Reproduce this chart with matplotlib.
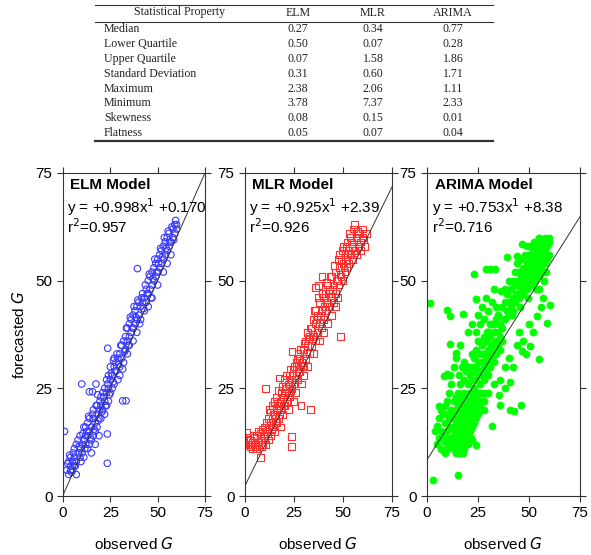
import matplotlib
matplotlib.use("Agg")
import matplotlib.pyplot as plt
from matplotlib.lines import Line2D

# ---- table data ----
table_header = ["Statistical Property", "ELM", "MLR", "ARIMA"]
table_rows = ["Median", "Lower Quartile", "Upper Quartile", "Standard Deviation",
              "Maximum", "Minimum", "Skewness", "Flatness"]
elm_stats = ["0.27", "0.50", "0.07", "0.31", "2.38", "3.78", "0.08", "0.05"]
mlr_stats = ["0.34", "0.07", "1.58", "0.60", "2.06", "7.37", "0.15", "0.07"]
arima_stats = ["0.77", "0.28", "1.86", "1.71", "1.11", "2.33", "0.01", "0.04"]

# ---- scatter data (observed, forecasted) ----
elm_pts = [
    (2, 6), (3, 5), (3, 8), (4, 7), (4, 9), (5, 6), (5, 8), (6, 9), (6, 11), (7, 5), (7, 8),
    (7, 12), (8, 10), (8, 13), (9, 9), (9, 11), (9, 14), (10, 12), (10, 10), (11, 13), (11, 16),
    (11, 9), (12, 14), (12, 12), (4, 6), (6, 7), (3.5, 9.5),
    (0.8, 15), (23.4, 7.6), (23.4, 14.4), (9.9, 26), (13.9, 24.2), (15.6, 24.2), (17.4, 26),
    (18.3, 23.5), (31.5, 22.1), (33.3, 22.1), (23.6, 34.3), (39.3, 52.8),
    (12, 16), (13, 11), (13, 14), (13, 17), (14, 12), (14, 15), (14, 18), (15, 13), (15, 16),
    (15, 10), (16, 14), (16, 18), (16, 20), (17, 15), (17, 17), (17, 12), (18, 19), (18, 16),
    (18, 21), (19, 18), (19, 20), (19, 14), (20, 21), (20, 18), (20, 23),
    (21, 20), (21, 24), (22, 22), (22, 19), (22, 25), (23, 24), (23, 21), (23, 27), (24, 25),
    (24, 22), (24, 28), (25, 24), (25, 27), (25, 30), (26, 28), (26, 25), (27, 26), (27, 30),
    (27, 32), (28, 29), (28, 31), (29, 27), (29, 32), (30, 30), (30, 33), (30, 28), (26.6, 31.5),
    (31, 32), (31, 35), (32, 31), (32, 36), (33, 34), (33, 37), (34, 33), (34, 36), (34, 39),
    (35, 37), (35, 40), (35, 35), (36, 38), (36, 41), (37, 39), (37, 42), (37, 36), (38, 40),
    (38, 43), (39, 41), (39, 44), (39, 38), (40, 42), (40, 45),
    (41, 44), (41, 41), (42, 45), (42, 47), (43, 43), (43, 46), (44, 48), (44, 45), (45, 47),
    (45, 50), (45, 44), (46, 48), (46, 51), (47, 49), (47, 52), (47, 46), (48, 50), (48, 53),
    (49, 51), (49, 54), (50, 52), (50, 49), (50, 55),
    (51, 53), (51, 56), (52, 54), (52, 57), (53, 55), (53, 52), (53, 58), (54, 56), (54, 59),
    (55, 57), (55, 54), (55, 60), (56, 58), (56, 61), (57, 59), (57, 56), (58, 60), (58, 62),
    (59, 61), (59, 63), (60, 62), (60, 63),
    (2.5, 7.5), (4.5, 5.5), (5.5, 10), (6.5, 7), (8.5, 11.5), (9.5, 8), (10.5, 14.5), (11.5, 11),
    (12.5, 15), (13.5, 18.5), (14.5, 13.5), (15.5, 19), (16.5, 15.5), (17.5, 21), (18.5, 17.5),
    (19.5, 22), (20.5, 19.5), (21.5, 23), (22.5, 21), (23.5, 26), (24.5, 23.5), (25.5, 28.5),
    (26.5, 26.5), (27.5, 29), (28.5, 33), (29.5, 30.5), (30.5, 35), (31.5, 29.5), (32.5, 33.5),
    (33.5, 39), (34.5, 35), (35.5, 41.5), (36.5, 39), (37.5, 44), (38.5, 41.5), (39.5, 45.5),
    (40.5, 40), (41.5, 46), (42.5, 43.5), (43.5, 49), (44.5, 47), (45.5, 51.5), (46.5, 46),
    (47.5, 50.5), (48.5, 55), (49.5, 52), (50.5, 54), (51.5, 57.5), (52.5, 55.5), (53.5, 60),
    (54.5, 57.5), (55.5, 61.5), (56.5, 59), (57.5, 62.5), (58.5, 59.5), (59.5, 64),
]

mlr_pts = [
    (1, 14.7), (2, 12), (3, 11.5), (3, 13), (4, 11), (4, 12.5), (5, 12), (5, 13.5), (6, 11),
    (6, 14), (7, 12.5), (7, 15), (7.8, 8.9), (8, 13), (8, 14.5), (9, 12), (9, 15.5), (10, 13),
    (10, 16), (10, 14), (11, 15), (11, 17), (12, 13), (12, 16), (12, 18),
    (10.4, 25), (17.7, 27.4), (23.6, 11.5), (23.6, 13.8), (24, 33.6), (33.3, 20), (39.3, 51),
    (48.6, 37), (28.6, 21),
    (13, 14), (13, 17), (13, 19.5), (14, 16), (14, 18), (14, 21), (15, 15), (15, 19), (15, 22),
    (16, 17), (16, 20), (16, 23), (17, 18), (17, 21), (17, 24.5), (18, 16), (18, 20), (18, 22),
    (19, 19), (19, 23), (19, 25.5), (20, 21), (20, 24), (20, 27),
    (21, 22), (21, 25), (21, 28), (22, 20), (22, 24), (22, 26), (23, 23), (23, 27), (23, 29.5),
    (24, 25), (24, 28), (25, 22), (25, 26), (25, 30), (26, 24), (26, 28), (26, 31), (27, 27),
    (27, 30), (27, 33), (28, 29), (28, 32), (29, 26), (29, 31), (30, 30), (30, 34), (30, 28),
    (31, 32), (31, 36), (32, 30), (32, 35), (32, 38), (33, 33), (33, 37), (34, 35), (34, 39),
    (35, 33), (35, 37), (35, 41), (36, 36), (36, 40), (36, 43), (37, 38), (37, 42), (38, 36),
    (38, 40), (38, 45), (39, 39), (39, 43), (40, 41), (40, 46), (40, 38), (37.6, 48.8), (36, 48.4),
    (41, 43), (41, 47), (42, 40), (42, 45), (42, 49), (43, 44), (43, 48), (44, 42), (44, 46),
    (44, 51), (45, 45), (45, 49), (46, 47), (46, 52), (46, 44), (47, 46), (47, 50), (48, 49),
    (48, 53), (48, 56), (49, 51), (49, 55), (50, 50), (50, 54), (50, 58),
    (51, 52), (51, 56), (52, 55), (52, 59), (52, 53), (53, 54), (53, 57), (54, 56), (54, 60),
    (55, 55), (55, 58), (56, 57), (56, 63), (57, 56), (57, 60), (58, 58), (58, 61), (59, 57),
    (59, 59), (60, 60), (60, 62), (61, 58), (62, 61),
    (2.5, 13.5), (3.5, 12), (4.5, 14), (5.5, 11.5), (6.5, 12.5), (8.5, 11.5), (9.5, 14),
    (10.5, 12), (11.5, 14.5), (12.5, 20), (13.5, 15.5), (14.5, 19.5), (15.5, 17), (16.5, 21.5),
    (17.5, 19), (18.5, 24), (19.5, 21), (20.5, 25.5), (21.5, 23), (22.5, 28), (23.5, 24.5),
    (24.5, 29.5), (25.5, 27), (26.5, 32), (27.5, 29), (28.5, 34), (29.5, 30), (30.5, 35.5),
    (31.5, 33), (32.5, 36.5), (33.5, 39), (34.5, 37.5), (35.5, 43), (36.5, 41), (37.5, 46),
    (38.5, 42), (39.5, 47), (40.5, 44), (41.5, 49.5), (42.5, 47), (43.5, 51), (44.5, 48),
    (45.5, 53.5), (46.5, 50), (47.5, 55), (48.5, 51.5), (49.5, 57), (50.5, 53), (51.5, 58),
    (52.5, 56), (53.5, 61), (54.5, 59), (55.5, 62), (57.5, 61.5), (60.5, 59.5),
]

arima_pts = [
    (3.1, 3.7), (15, 4.9), (8.8, 9.9), (7, 11), (5, 12), (6, 13.5), (4, 15), (4.8, 16.2),
    (5.7, 18), (7, 15), (8, 14), (9, 12.5), (10, 15), (10, 11), (11, 13.5), (12, 12), (12, 16),
    (13, 11), (13, 14), (14, 10), (14, 13), (15, 11.5), (15, 14.5), (16, 12), (16, 10), (17, 13),
    (17.8, 9.9), (18, 11), (18, 12.5), (19, 14), (20, 12), (24, 11.9), (21, 15), (22, 13),
    (12, 18), (12, 20), (13, 16), (13, 19), (13, 22), (14, 17), (14, 20), (14, 23), (15, 16),
    (15, 18), (15, 21), (15, 24), (16, 15), (16, 17), (16, 19), (16, 22), (17, 16), (17, 18),
    (17, 20), (17, 23), (18, 15), (18, 17), (18, 19), (18, 21), (18, 24), (19, 16), (19, 18),
    (19, 20), (19, 22), (20, 15), (20, 17), (20, 19), (20, 21), (20, 23), (20, 26), (21, 17),
    (21, 19), (21, 21), (21, 24), (22, 16), (22, 18), (22, 20), (22, 23), (23, 17), (23, 19),
    (23, 22), (23, 25), (24, 18), (24, 20), (24, 23), (25, 19), (25, 22), (25, 24), (26, 21),
    (26, 20), (27, 22), (28, 20), (28, 24),
    (7, 20), (8, 19), (9, 21), (10, 22), (10, 19), (11, 24), (12, 26), (9, 17), (11, 18), (6, 21),
    (8.3, 27.8), (10, 28.3), (11.3, 28.2), (15.7, 28), (13, 30), (14, 32), (14.2, 33.3),
    (11.3, 35.4), (16, 35), (17, 30), (18, 27), (19, 29), (16, 26), (18, 31), (20, 30), (21, 28),
    (22, 27),
    (22, 30), (22, 33), (23, 29), (23, 32), (24, 27), (24, 30), (24, 34), (25, 28), (25, 31),
    (25, 36), (26, 26), (26, 29), (26, 33), (27, 28), (27, 31), (27, 35), (28, 27), (28, 30),
    (28, 33), (28, 37), (29, 29), (29, 32), (29, 36), (30, 28), (30, 31), (30, 34), (30, 38),
    (31, 30), (31, 33), (31, 37), (32, 32), (32, 35), (32, 40), (33, 31), (33, 34), (33, 38),
    (34, 33), (34, 36), (34, 41), (35, 35), (35, 38), (35, 42), (36, 34), (36, 37), (36, 40),
    (37, 36), (37, 39), (37, 44),
    (26, 24), (28, 22), (30, 24), (31.7, 16.3), (33, 26), (35.8, 21.2), (35.4, 23.5), (36, 27),
    (38, 25), (40.7, 26.4), (40.7, 20), (42.6, 19.8), (46, 21.2), (38, 30), (40, 32), (42, 30),
    (46.4, 33.6), (48.7, 32.9), (50.7, 34.8), (54.9, 31.8), (44, 35), (45, 38), (47, 36),
    (50, 40), (52, 38), (54, 41.8), (58.8, 40.2), (60.3, 44.3), (56, 44),
    (1.5, 44.9), (10, 43.2), (11.3, 41.8), (17.6, 42.3), (23.9, 45.7), (23, 51.5), (28.7, 52.7),
    (31, 52.8), (33.4, 52.8), (36.1, 47.6), (20, 38), (22, 40), (24, 38), (25, 42), (26, 40),
    (27, 44), (28, 41), (29, 46), (30, 43), (31, 40), (32, 45), (33, 48), (34, 44),
    (38, 41), (38, 45), (38, 48), (39, 43), (39, 47), (40, 42), (40, 45), (40, 50), (41, 44),
    (41, 48), (42, 43), (42, 46), (42, 50), (43, 45), (43, 49), (43, 52), (44, 47), (44, 50),
    (44, 54), (45, 46), (45, 49), (45, 52), (46, 48), (46, 51), (46, 55), (47, 47), (47, 50),
    (47, 53), (48, 49), (48, 52), (48, 56), (49, 48), (49, 51), (49, 54), (49, 58), (50, 50),
    (50, 53), (50, 56), (51, 49), (51, 52), (51, 55), (51, 58), (52, 51), (52, 54), (52, 57),
    (53, 50), (53, 53), (53, 56), (53, 59), (54, 52), (54, 55), (54, 58), (55, 51), (55, 54),
    (55, 57), (55, 60), (56, 53), (56, 56), (56, 59), (57, 52), (57, 55), (57, 58), (58, 54),
    (58, 57), (58, 60), (59, 55), (59, 58), (60, 56), (60, 59), (59.8, 60), (54.9, 60),
    (46.7, 58.5), (39.4, 55.4), (44.3, 55.8), (57, 46), (55, 48),
    (14.5, 19), (16.5, 18), (17.5, 21.5), (18.5, 16), (19.5, 19), (20.5, 22), (21.5, 18),
    (22.5, 21), (23.5, 24), (24.5, 21.5), (17.5, 14), (19.5, 15), (21.5, 13.5), (13.5, 15),
    (15.5, 13), (27.5, 33), (29.5, 38), (31.5, 35), (33.5, 40), (35.5, 36), (37.5, 41),
    (39.5, 45), (41.5, 42), (43.5, 47), (45.5, 44), (47.5, 49), (49.5, 46), (51.5, 53),
    (53.5, 48), (55.5, 55), (57.5, 50), (52.5, 59), (56.5, 58), (58.5, 52), (50.5, 58),
]

models = ["ELM", "MLR", "ARIMA"]
slopes = [0.998, 0.925, 0.753]
intercepts = [0.170, 2.39, 8.38]
intercept_txt = ["+0.170", "+2.39", "+8.38"]
r2_txt = ["0.957", "0.926", "0.716"]
ticks = [0, 25, 50, 75]

W, H = 591, 555
fig = plt.figure(figsize=(W / 100, H / 100), dpi=100)
plt.rcParams["font.family"] = ["Liberation Sans", "DejaVu Sans"]


def fx(px):
    return px / W


def fy(py):
    return 1 - py / H


# ---- table at the top ----
serif = ["Liberation Serif", "DejaVu Serif"]
tx0, tx1 = 95, 493
col_x = [180, 298, 373, 453]
fig.add_artist(Line2D([fx(tx0), fx(tx1)], [fy(5), fy(5)], color="#333333", lw=0.8))
fig.add_artist(Line2D([fx(tx0), fx(tx1)], [fy(22), fy(22)], color="#333333", lw=0.8))
fig.add_artist(Line2D([fx(tx0), fx(tx1)], [fy(141), fy(141)], color="#333333", lw=1.6))
for cx, h in zip(col_x, table_header):
    fig.text(fx(cx), fy(12.5), h, ha="center", va="center", family=serif, fontsize=8.6,
             color="#222222")
for i, name in enumerate(table_rows):
    yy = fy(29.5 + i * 14.8)
    fig.text(fx(104), yy, name, ha="left", va="center", family=serif, fontsize=8.6, color="#222222")
    for cx, vals in zip(col_x[1:], [elm_stats, mlr_stats, arima_stats]):
        fig.text(fx(cx), yy, vals[i], ha="center", va="center", family=serif, fontsize=8.6,
                 color="#222222")

# ---- scatter panels ----
panels = [(63, 205), (245, 392), (427, 580)]
top_px, bot_px = 173, 496
styles = [
    dict(marker="o", facecolors="none", edgecolors="#3a3aff", s=22, linewidths=0.8),
    dict(marker="s", facecolors="none", edgecolors="#ff3030", s=24, linewidths=0.8),
    dict(marker="o", facecolors="#00ff00", edgecolors="#00ff00", s=26, linewidths=0.5),
]
data = [elm_pts, mlr_pts, arima_pts]

for k, (l, r) in enumerate(panels):
    ax = fig.add_axes([fx(l), fy(bot_px), (r - l) / W, (bot_px - top_px) / H])
    xs = [p[0] for p in data[k]]
    ys = [p[1] for p in data[k]]
    ax.scatter(xs, ys, zorder=2, **styles[k])
    ax.plot([0, 75], [intercepts[k], slopes[k] * 75 + intercepts[k]], color="#333333",
            lw=0.7, zorder=3)
    ax.set_xlim(0, 75)
    ax.set_ylim(0, 75)
    ax.set_xticks(ticks)
    ax.set_yticks(ticks)
    ax.tick_params(direction="out", length=4, width=0.8, labelsize=11, top=True, right=True,
                   colors="#333333", labelcolor="black")
    for sp in ax.spines.values():
        sp.set_linewidth(0.8)
        sp.set_color("#333333")
    ax.text(0.05, 0.963, models[k] + " Model", transform=ax.transAxes, ha="left", va="center",
            fontsize=11, fontweight="bold")
    ax.text(0.03, 0.895, "y = +%.3fx$^1$ %s" % (slopes[k], intercept_txt[k]),
            transform=ax.transAxes, ha="left", va="center", fontsize=11)
    ax.text(0.03, 0.835, "r$^2$=" + r2_txt[k], transform=ax.transAxes, ha="left", va="center",
            fontsize=11)
    ax.set_xlabel("observed $\\it{G}$", fontsize=11, labelpad=11)
    if k == 0:
        ax.set_ylabel("forecasted $\\it{G}$", fontsize=11, labelpad=6)

fig.savefig("out.png", dpi=100)
